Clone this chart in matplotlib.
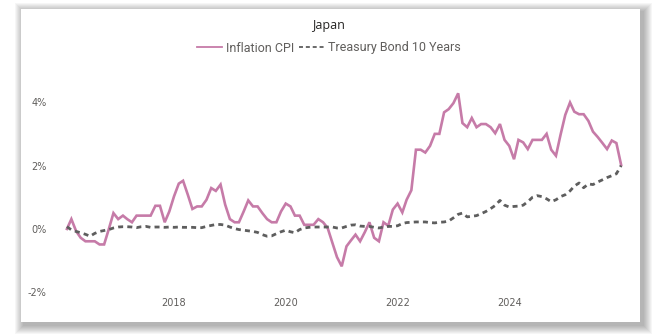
import matplotlib
matplotlib.use("Agg")
import matplotlib.pyplot as plt
import matplotlib.dates as mdates
from matplotlib.patches import Rectangle
from matplotlib.lines import Line2D
from matplotlib.ticker import FuncFormatter
import pandas as pd

# monthly, Feb 2016 .. Jan 2026
dates = pd.date_range("2016-02-01", periods=120, freq="MS")

cpi = [
    0.0, 0.31, -0.07, -0.28, -0.39, -0.39, -0.39, -0.49, -0.49, 0.0,
    0.5, 0.31, 0.42, 0.31, 0.21, 0.42, 0.42, 0.42, 0.42, 0.73,
    0.73, 0.21, 0.55, 1.03, 1.43, 1.52, 1.08, 0.63, 0.71, 0.71,
    0.92, 1.29, 1.2, 1.4, 0.77, 0.31, 0.21, 0.21, 0.55, 0.9,
    0.71, 0.71, 0.5, 0.31, 0.21, 0.21, 0.55, 0.8, 0.71, 0.42,
    0.42, 0.13, 0.13, 0.13, 0.31, 0.21, 0.03, -0.44, -0.89, -1.18,
    -0.55, -0.37, -0.18, -0.39, -0.1, 0.21, -0.28, -0.39, 0.21, 0.1,
    0.61, 0.8, 0.52, 0.92, 1.22, 2.5, 2.5, 2.41, 2.62, 3.0,
    3.0, 3.68, 3.78, 3.97, 4.28, 3.34, 3.21, 3.5, 3.21, 3.31,
    3.31, 3.21, 3.02, 3.31, 2.81, 2.62, 2.2, 2.81, 2.73, 2.52,
    2.81, 2.81, 2.81, 3.0, 2.5, 2.31, 2.97, 3.6, 3.99, 3.7,
    3.62, 3.62, 3.41, 3.07, 2.9, 2.71, 2.52, 2.79, 2.71, 2.02,
]

bond = [
    0.07, -0.03, -0.08, -0.12, -0.17, -0.23, -0.14, -0.08, -0.05, -0.02,
    0.03, 0.06, 0.07, 0.07, 0.06, 0.04, 0.07, 0.08, 0.05, 0.06,
    0.06, 0.05, 0.06, 0.05, 0.06, 0.05, 0.05, 0.05, 0.04, 0.04,
    0.08, 0.11, 0.14, 0.14, 0.12, 0.06, 0.01, -0.02, -0.04, -0.06,
    -0.08, -0.11, -0.18, -0.23, -0.22, -0.15, -0.09, -0.04, -0.09, -0.12,
    -0.02, 0.03, 0.05, 0.06, 0.06, 0.06, 0.06, 0.06, 0.03, 0.03,
    0.08, 0.12, 0.13, 0.09, 0.08, 0.08, 0.05, 0.03, 0.06, 0.08,
    0.08, 0.1, 0.17, 0.2, 0.21, 0.22, 0.22, 0.22, 0.2, 0.19,
    0.21, 0.22, 0.25, 0.35, 0.46, 0.5, 0.38, 0.4, 0.42, 0.48,
    0.55, 0.64, 0.74, 0.9, 0.75, 0.69, 0.71, 0.72, 0.75, 0.86,
    1.0, 1.05, 1.02, 0.95, 0.86, 0.92, 1.02, 1.08, 1.2, 1.35,
    1.45, 1.3, 1.42, 1.4, 1.48, 1.55, 1.62, 1.68, 1.74, 2.0,
]

yticks = [-2, 0, 2, 4]
xtick_years = [2018, 2020, 2022, 2024]

W, H = 655, 334
PINK = "#C67BA8"
GREY = "#5E5E5E"
TXT = "#605E5C"

fig = plt.figure(figsize=(W / 100, H / 100), dpi=100)
fig.patch.set_facecolor("white")

# card with soft shadow (heavier to the lower right)
cx0, cy0, cx1, cy1 = 21, 9, 640, 322
for k in range(9, 0, -1):
    fig.patches.append(Rectangle(((cx0 - k + 3) / W, 1 - (cy1 + k + 3) / H),
                                 (cx1 - cx0 + 2 * k) / W, (cy1 - cy0 + 2 * k) / H,
                                 transform=fig.transFigure, facecolor="black",
                                 alpha=0.035, edgecolor="none", zorder=0))
fig.patches.append(Rectangle((cx0 / W, 1 - cy1 / H), (cx1 - cx0) / W, (cy1 - cy0) / H,
                             transform=fig.transFigure, facecolor="white",
                             edgecolor="none", zorder=1))

ax = fig.add_axes([55 / W, 1 - 292.3 / H, 575 / W, (292.3 - 80) / H])
ax.set_facecolor("none")
ax.set_zorder(2)

ax.plot(dates, cpi, color=PINK, linewidth=1.9, solid_joinstyle="miter")
ax.plot(dates, bond, color=GREY, linewidth=2.0, linestyle=(0, (1.8, 1.5)))

ax.set_ylim(-2, 4.7)
ax.set_xlim(pd.Timestamp("2015-11-15"), pd.Timestamp("2026-02-28"))
ax.set_yticks(yticks)
ax.yaxis.set_major_formatter(FuncFormatter(lambda v, p: f"{v:.0f}%"))
ax.set_xticks([pd.Timestamp(f"{y}-01-01") for y in xtick_years])
ax.xaxis.set_major_formatter(mdates.DateFormatter("%Y"))
ax.tick_params(length=0, labelsize=7, colors=TXT, pad=6)
ax.tick_params(axis="x", pad=4)
for s in ax.spines.values():
    s.set_visible(False)

fig.text(328 / W, 1 - 25 / H, "Japan", ha="center", va="center",
         fontsize=9, color="#252423", family="Open Sans")

handles = [Line2D([], [], color=PINK, linewidth=1.3),
           Line2D([], [], color=GREY, linewidth=1.3, linestyle=(0, (2.2, 1.6)))]
fig.legend(handles, ["Inflation CPI", "Treasury Bond 10 Years"],
           loc="center", bbox_to_anchor=(329 / W, 1 - 48 / H), ncol=2, frameon=False,
           handlelength=2.0, handletextpad=0.3, columnspacing=0.4,
           labelcolor=TXT, prop={"family": "Roboto", "size": 9})

fig.savefig("out.png", dpi=100)
